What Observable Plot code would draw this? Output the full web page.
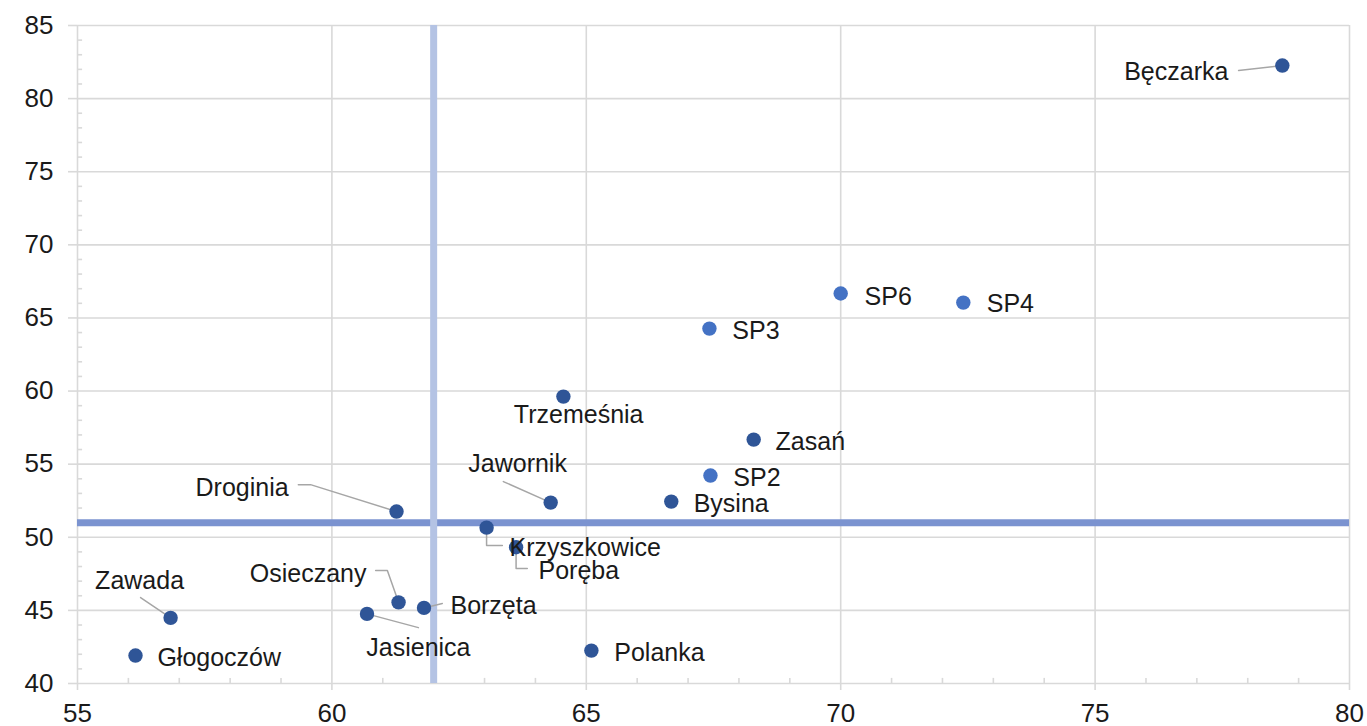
<!DOCTYPE html>
<html>
<head>
<meta charset="utf-8">
<script src="https://cdn.jsdelivr.net/npm/d3@7"></script>
<script src="https://cdn.jsdelivr.net/npm/@observablehq/plot@0.6"></script>
<style>
  html, body { margin: 0; padding: 0; background: #fff; overflow: hidden; }
  #chart { width: 1367px; height: 726px; }
  svg { font-family: "Liberation Sans", Arial, sans-serif; }
</style>
</head>
<body>
<div id="chart"></div>
<script>
// ---- data ----
const names = ["Bęczarka","SP6","SP4","SP3","Trzemeśnia","Zasań","SP2","Bysina","Jawornik","Droginia","Krzyszkowice","Poręba","Osieczany","Borzęta","Jasienica","Zawada","Głogoczów","Polanka"];
const xValues = [78.68,70.0,72.41,67.42,64.55,68.29,67.44,66.67,64.30,61.27,63.04,63.62,61.31,61.81,60.69,56.83,56.14,65.10];
const yValues = [82.26,66.67,66.05,64.27,59.62,56.68,54.22,52.44,52.37,51.76,50.66,49.32,45.55,45.17,44.76,44.49,41.91,42.25];
const groups = ["other","SP","SP","SP","other","other","SP","other","other","other","other","other","other","other","other","other","other","other"];
const refX = [62];
const refY = [51];
const xTicks = [55,60,65,70,75,80];
const yTicks = [40,45,50,55,60,65,70,75,80,85];

// ---- label placement (data units) ----
const labelX = [77.62,70.47,72.87,67.87,64.85,68.72,67.89,67.11,63.65,59.15,63.49,64.06,60.68,62.33,61.70,56.22,56.57,65.55];
const labelY = [81.79,66.46,65.92,64.14,58.39,56.55,54.08,52.30,55.04,53.40,49.30,47.72,47.52,45.33,42.46,47.04,41.77,42.11];
const labelAnchor = ["end","start","start","start","middle","start","start","start","middle","end","start","start","end","start","middle","middle","start","start"];
// leader lines: bend points (data units); the point itself is appended
const leaders = [
  ["Bęczarka", [[77.82,81.92]]],
  ["Droginia", [[59.34,53.60],[59.58,53.60]]],
  ["Jawornik", [[63.37,53.81]]],
  ["Krzyszkowice", [[63.35,49.43],[63.04,49.43]]],
  ["Poręba", [[63.84,47.86],[63.62,47.86]]],
  ["Osieczany", [[60.86,47.72],[61.09,47.72]]],
  ["Borzęta", [[62.17,45.47]]],
  ["Jasienica", [[61.70,43.82]]],
  ["Zawada", [[56.24,45.88]]]
];

const points = names.map((n,i) => ({name:n, x:xValues[i], y:yValues[i], group:groups[i],
  lx:labelX[i], ly:labelY[i], anchor:labelAnchor[i]}));
const byName = new Map(points.map(d => [d.name, d]));
const leaderRows = leaders.flatMap(([n, pts]) => {
  const p = byName.get(n);
  return [...pts.map(([x,y]) => ({name:n, x, y})), {name:n, x:p.x, y:p.y}];
});
const minorX = d3.range(55, 81, 1).filter(v => v % 5 !== 0);
const minorY = d3.range(40, 86, 1).filter(v => v % 5 !== 0);

const gridColor = "#d9d9d9";
const labelMarks = ["start","middle","end"].map(a =>
  Plot.text(points.filter(d => d.anchor === a), {x: "lx", y: "ly", text: "name", textAnchor: a,
    fontSize: 25, fill: "#1a1a1a", lineAnchor: "middle"}));

const chart = Plot.plot({
  width: 1367,
  height: 726,
  marginLeft: 77,
  marginRight: 18,
  marginTop: 25,
  marginBottom: 43,
  style: {fontFamily: "'Liberation Sans', Arial, sans-serif", background: "#fff", overflow: "visible"},
  x: {domain: [55, 80], nice: false},
  y: {domain: [40, 85], nice: false},
  color: {domain: ["SP","other"], range: ["#4472c4","#2f5597"]},
  marks: [
    Plot.gridX(xTicks, {stroke: gridColor, strokeOpacity: 1, strokeWidth: 1.6}),
    Plot.gridY(yTicks, {stroke: gridColor, strokeOpacity: 1, strokeWidth: 1.6}),
    Plot.ruleY(minorY, {x1: 55, x2: 55.1, stroke: gridColor, strokeWidth: 1.6}),
    Plot.ruleX(minorX, {y1: 40, y2: 40.35, stroke: gridColor, strokeWidth: 1.6}),
    Plot.axisY(yTicks, {tickSize: 9, tickPadding: 15, fontSize: 26, stroke: gridColor, strokeWidth: 1.6, color: "#1a1a1a", tickFormat: d => d}),
    Plot.axisX(xTicks, {tickSize: 7, tickPadding: 13, fontSize: 26, stroke: gridColor, strokeWidth: 1.6, color: "#1a1a1a", tickFormat: d => d}),
    Plot.ruleY(refY, {stroke: "#7b93d0", strokeWidth: 7}),
    Plot.ruleX(refX, {stroke: "#b4c3e4", strokeWidth: 7}),
    Plot.line(leaderRows, {x: "x", y: "y", z: "name", stroke: "#a6a6a6", strokeWidth: 1.5, curve: "linear"}),
    Plot.dot(points, {x: "x", y: "y", fill: "group", r: 7.2, stroke: null}),
    ...labelMarks
  ]
});
document.getElementById("chart").appendChild(chart);
</script>
</body>
</html>
